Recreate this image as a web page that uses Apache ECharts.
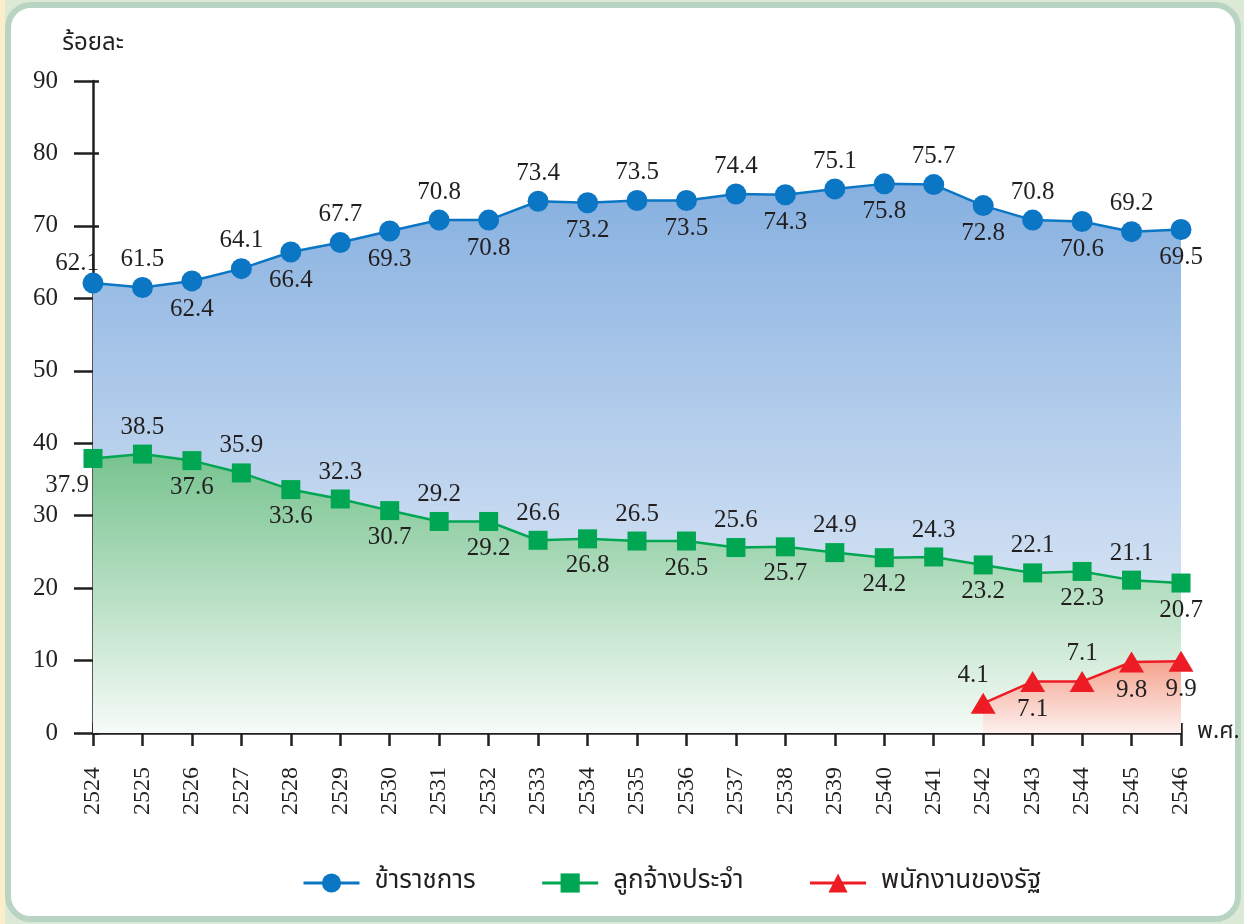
<!DOCTYPE html>
<html>
<head>
<meta charset="utf-8">
<script src="https://cdn.jsdelivr.net/npm/echarts@6/dist/echarts.min.js"></script>
<style>
	html, body { margin: 0; padding: 0; }
	body {
		width: 1244px;
		height: 924px;
		background: linear-gradient(90deg, #fbeec9 0px, #fbeec9 5px, #dce9d7 5px);
		position: relative;
		overflow: hidden;
	}
	.panel {
		position: absolute;
		left: 5px;
		top: 2px;
		width: 1224px;
		height: 908px;
		border: 6px solid #b9d4c2;
		border-radius: 26px;
		background: #fff;
	}
	#chart {
		position: absolute;
		left: 0;
		top: 0;
		width: 1244px;
		height: 924px;
	}
</style>
</head>
<body>
<div class="panel"></div>
<div id="chart"></div>
<script>
// ปี พ.ศ.
const years = ['2524', '2525', '2526', '2527', '2528', '2529', '2530', '2531', '2532', '2533', '2534', '2535',
	'2536', '2537', '2538', '2539', '2540', '2541', '2542', '2543', '2544', '2545', '2546'];

// ร้อยละ แยกตามประเภท
const civilServants = [62.1, 61.5, 62.4, 64.1, 66.4, 67.7, 69.3, 70.8, 70.8, 73.4, 73.2, 73.5,
	73.5, 74.4, 74.3, 75.1, 75.8, 75.7, 72.8, 70.8, 70.6, 69.2, 69.5];
const permanentEmployees = [37.9, 38.5, 37.6, 35.9, 33.6, 32.3, 30.7, 29.2, 29.2, 26.6, 26.8, 26.5,
	26.5, 25.6, 25.7, 24.9, 24.2, 24.3, 23.2, 22.1, 22.3, 21.1, 20.7];
const stateEmployees = [null, null, null, null, null, null, null, null, null, null, null, null,
	null, null, null, null, null, null, 4.1, 7.1, 7.1, 9.8, 9.9];

const yTicks = { min: 0, max: 90, interval: 10 };

const numFont = '"Liberation Serif", "DejaVu Serif", serif';
const thaiFont = '"Noto Sans Thai", "Noto Sans", "DejaVu Sans", sans-serif';
const ink = '#231f20';

const BLUE = '#0a76c4';
const GREEN = '#00a651';
const RED = '#ed1c24';

// ป้ายตัวเลขสลับบน/ล่าง
const altPos = (i, first) => {
	if (i === 0) return first;
	return i % 2 === 1 ? { position: 'top' } : { position: 'bottom' };
};

const withLabels = (arr, pick) => arr.map((v, i) => {
	if (v == null) return null;
	return { value: v, label: pick(i) };
});

const grad = (top, bottom) => new echarts.graphic.LinearGradient(0, 0, 0, 1, [
	{ offset: 0, color: top },
	{ offset: 1, color: bottom },
]);

const labelStyle = {
	show: true,
	fontFamily: numFont,
	fontSize: 25,
	color: ink,
	distance: 5,
	formatter: p => p.value.toFixed(1),
};

const chart = echarts.init(document.getElementById('chart'));

chart.setOption({
	animation: false,
	backgroundColor: 'transparent',
	grid: { left: 93, right: 63, top: 81, bottom: 191, containLabel: false },
	legend: {
		top: 865,
		left: 297,
		itemWidth: 56,
		itemHeight: 24,
		itemGap: 65,
		lineStyle: { width: 3 },
		textStyle: { fontFamily: thaiFont, fontSize: 26, color: ink, padding: [0, 0, 0, 10] },
		data: ['ข้าราชการ', 'ลูกจ้างประจำ', 'พนักงานของรัฐ'],
	},
	xAxis: [{
		type: 'category',
		data: years,
		boundaryGap: false,
		name: 'พ.ศ.',
		nameLocation: 'end',
		nameGap: 16,
		nameTextStyle: { fontFamily: thaiFont, fontSize: 23, color: ink, verticalAlign: 'middle' },
		axisLine: { lineStyle: { color: ink, width: 2.5 } },
		axisTick: { length: 13, lineStyle: { color: ink, width: 2.5 } },
		axisLabel: { rotate: 90, margin: 34, fontFamily: numFont, fontSize: 24, color: ink, interval: 0 },
		splitLine: { show: false },
	}, {
		// ขีดด้านใน
		type: 'category',
		data: years,
		boundaryGap: false,
		position: 'bottom',
		axisLine: { show: false },
		axisTick: { inside: true, length: 10, lineStyle: { color: ink, width: 2.5 } },
		axisLabel: { show: false },
		splitLine: { show: false },
	}],
	yAxis: [{
		type: 'value',
		min: yTicks.min,
		max: yTicks.max,
		interval: yTicks.interval,
		name: 'ร้อยละ',
		nameLocation: 'end',
		nameGap: 24,
		nameTextStyle: { fontFamily: thaiFont, fontSize: 24, color: ink },
		axisLine: { show: true, lineStyle: { color: ink, width: 2.5 } },
		axisTick: { show: true, length: 19, lineStyle: { color: ink, width: 2.5 } },
		axisLabel: { margin: 35, fontFamily: numFont, fontSize: 25, color: ink },
		splitLine: { show: false },
	}, {
		type: 'value',
		min: yTicks.min,
		max: yTicks.max,
		interval: yTicks.interval,
		position: 'left',
		axisLine: { show: false },
		axisTick: { show: true, inside: true, length: 6, lineStyle: { color: ink, width: 2.5 } },
		axisLabel: { show: false },
		splitLine: { show: false },
	}],
	series: [{
		name: 'ข้าราชการ',
		type: 'line',
		data: withLabels(civilServants, i => altPos(i, { position: 'top', offset: [-16, 8] })),
		symbol: 'circle',
		symbolSize: 21,
		lineStyle: { color: BLUE, width: 2.5 },
		itemStyle: { color: BLUE },
		areaStyle: { color: grad('#86b0e0', '#eef3fa'), opacity: 1 },
		label: labelStyle,
		z: 2,
	}, {
		name: 'ลูกจ้างประจำ',
		type: 'line',
		data: withLabels(permanentEmployees, i => altPos(i, { position: 'bottom', offset: [-26, 0] })),
		symbol: 'rect',
		symbolSize: 19,
		lineStyle: { color: GREEN, width: 2.5 },
		itemStyle: { color: GREEN },
		areaStyle: { color: grad('#77c38f', '#f6fbf7'), opacity: 1 },
		label: labelStyle,
		z: 3,
	}, {
		name: 'พนักงานของรัฐ',
		type: 'line',
		data: withLabels(stateEmployees, i => {
			const k = i - 18;
			if (k === 0) return { position: 'top', offset: [-10, 0] };
			return k === 2 ? { position: 'top' } : { position: 'bottom' };
		}),
		symbol: 'triangle',
		symbolSize: [25, 21],
		lineStyle: { color: RED, width: 2.5 },
		itemStyle: { color: RED },
		areaStyle: { color: grad('#f5a38e', '#fdf0ee'), opacity: 1 },
		label: labelStyle,
		z: 4,
	}],
});
</script>
</body>
</html>
